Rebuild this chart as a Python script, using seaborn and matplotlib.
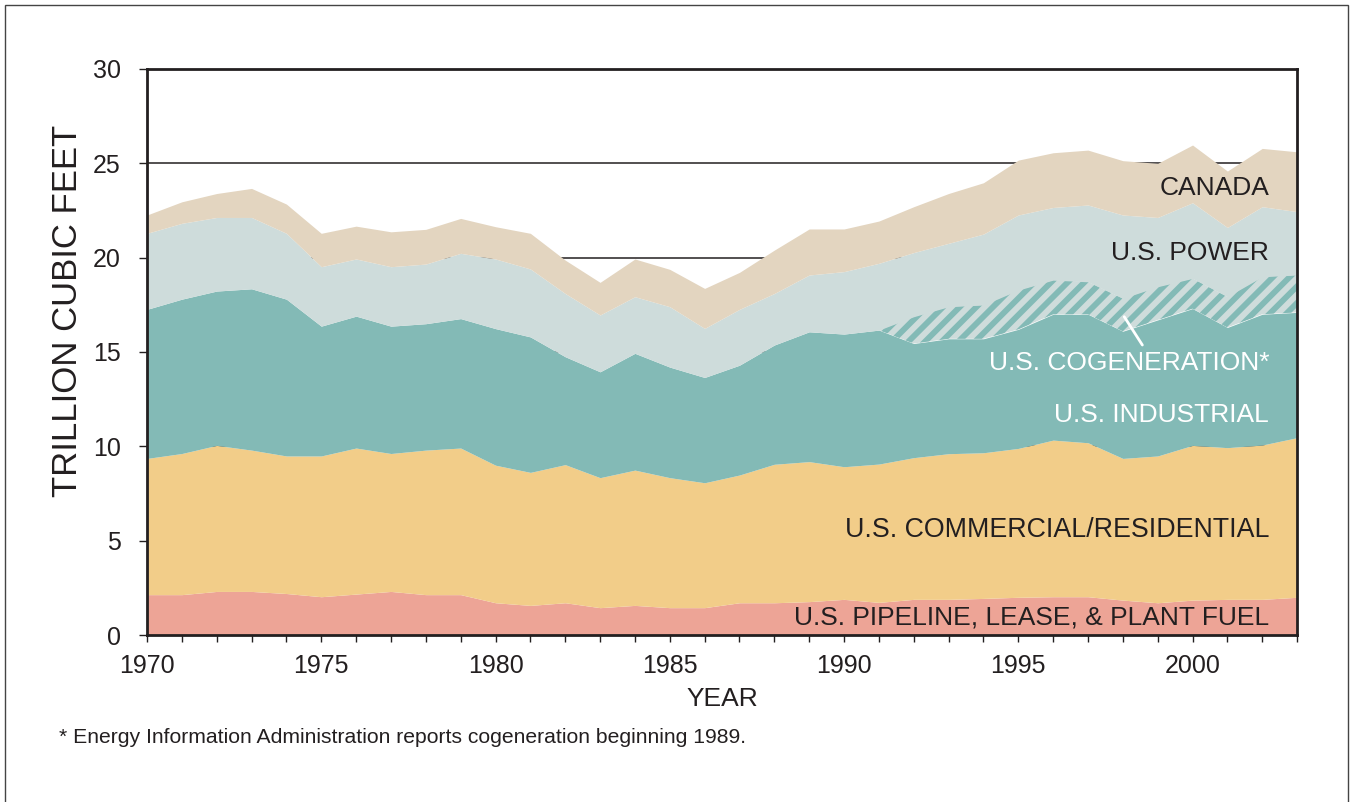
import numpy as np
import seaborn as sns
import matplotlib.pyplot as plt
from matplotlib.patches import Rectangle

years = list(range(1970, 2004))

# thickness of each band, trillion cubic feet
pipeline = [2.14, 2.14, 2.31, 2.31, 2.20, 2.03, 2.17, 2.31, 2.14, 2.14,
            1.71, 1.57, 1.71, 1.45, 1.57, 1.45, 1.45, 1.71, 1.71, 1.77,
            1.89, 1.73, 1.89, 1.89, 1.94, 2.00, 2.03, 2.03, 1.85, 1.71,
            1.85, 1.89, 1.89, 2.00]
commercial = [7.22, 7.48, 7.74, 7.49, 7.29, 7.46, 7.74, 7.31, 7.66, 7.77,
              7.29, 7.05, 7.32, 6.89, 7.17, 6.89, 6.62, 6.77, 7.34, 7.42,
              7.03, 7.33, 7.51, 7.72, 7.72, 7.89, 8.30, 8.16, 7.51, 7.78,
              8.20, 8.04, 8.18, 8.46]
industrial = [7.90, 8.18, 8.18, 8.55, 8.31, 6.88, 6.99, 6.75, 6.70, 6.86,
              7.24, 7.18, 5.72, 5.61, 6.19, 5.86, 5.58, 5.82, 6.32, 6.88,
              7.03, 7.10, 6.05, 6.09, 6.04, 6.31, 6.67, 6.81, 6.74, 7.21,
              7.25, 6.37, 6.93, 6.64]
cogeneration = [0, 0, 0, 0, 0, 0, 0, 0, 0, 0,
                0, 0, 0, 0, 0, 0, 0, 0, 0, 0,
                0, 0, 1.42, 1.70, 1.79, 2.08, 1.81, 1.72, 1.74, 1.76,
                1.60, 1.63, 1.99, 1.98]
power = [4.03, 4.02, 3.90, 3.78, 3.49, 3.15, 3.03, 3.15, 3.16, 3.46,
         3.69, 3.60, 3.35, 3.01, 3.00, 3.20, 2.60, 2.96, 2.73, 3.01,
         3.31, 3.54, 3.40, 3.36, 3.76, 3.98, 3.85, 4.07, 4.42, 3.67,
         4.01, 3.67, 3.71, 3.36]
canada = [0.97, 1.14, 1.27, 1.54, 1.55, 1.77, 1.74, 1.85, 1.84, 1.85,
          1.71, 1.89, 1.77, 1.73, 2.00, 1.98, 2.12, 1.96, 2.30, 2.44,
          2.26, 2.24, 2.43, 2.64, 2.72, 2.91, 2.90, 2.91, 2.88, 2.87,
          3.06, 2.99, 3.09, 3.17]

labels = ["U.S. PIPELINE, LEASE, & PLANT FUEL", "U.S. COMMERCIAL/RESIDENTIAL",
          "U.S. INDUSTRIAL", "U.S. COGENERATION*", "U.S. POWER", "CANADA"]
colors = ["#EDA496", "#F2CD89", "#83BAB6", "#CEDCDB", "#CEDCDB", "#E3D5C0"]
teal = "#83BAB6"
ink = "#231F20"

sns.set_theme(style="white")
plt.rcParams['font.family'] = ['Liberation Sans', 'DejaVu Sans']
plt.rcParams['hatch.linewidth'] = 4.2
plt.rcParams['hatch.color'] = teal

fig = plt.figure(figsize=(13.51, 8.02), dpi=100)
ax = fig.add_axes([0.1088, 0.2082, 0.8513, 0.7058])

pal = sns.color_palette(colors)
polys = ax.stackplot(years, pipeline, commercial, industrial, cogeneration,
                     power, canada, colors=pal, linewidth=0, zorder=2)
polys[3].set_hatch('//')
polys[3].set_edgecolor(teal)
polys[3].set_linewidth(0)

ax.set_xlim(1970, 2003)
ax.set_ylim(0, 30)
ax.set_yticks(np.arange(0, 31, 5))
ax.set_xticks(np.arange(1970, 2001, 5))
ax.set_xticks(years, minor=True)
ax.yaxis.grid(True, color=ink, linewidth=1.1)
ax.xaxis.grid(False)
ax.set_axisbelow(True)

for s in ax.spines.values():
    s.set_color(ink)
    s.set_linewidth(2)
ax.tick_params(axis='x', which='both', direction='out', length=5, width=1,
               color=ink, labelsize=18, labelcolor=ink, pad=9, bottom=True)
ax.tick_params(axis='y', direction='out', length=6, width=1, color=ink,
               labelsize=18, labelcolor=ink, pad=13, left=True)

ax.set_xlabel("YEAR", fontsize=19, color=ink, labelpad=6)
ax.set_ylabel("TRILLION CUBIC FEET", fontsize=25, color=ink)
ax.yaxis.set_label_coords(-0.0548, 0.572)

# band labels on the right
lx = 2002.2
ax.text(lx, 23.7, "CANADA", ha='right', va='center', fontsize=19, color=ink, zorder=5)
ax.text(lx, 20.25, "U.S. POWER", ha='right', va='center', fontsize=19, color=ink, zorder=5)
ax.text(lx, 14.4, "U.S. COGENERATION*", ha='right', va='center', fontsize=19, color='white', zorder=5)
ax.text(lx, 11.65, "U.S. INDUSTRIAL", ha='right', va='center', fontsize=19, color='white', zorder=5)
ax.text(lx, 5.55, "U.S. COMMERCIAL/RESIDENTIAL", ha='right', va='center', fontsize=19.3, color=ink, zorder=5)
ax.text(lx, 0.95, "U.S. PIPELINE, LEASE, & PLANT FUEL", ha='right', va='center', fontsize=19, color=ink, zorder=5)
ax.plot([1998.04, 1998.56], [16.87, 15.37], color='white', linewidth=2, zorder=5)

fig.text(0.044, 0.081, "* Energy Information Administration reports cogeneration beginning 1989.",
         fontsize=15.2, color=ink, va='center', ha='left')

fig.patches.append(Rectangle((0.0037, -0.01), 0.9941, 1.0038, transform=fig.transFigure,
                             fill=False, edgecolor='#444444', linewidth=1))

fig.savefig("out.png", dpi=100)
